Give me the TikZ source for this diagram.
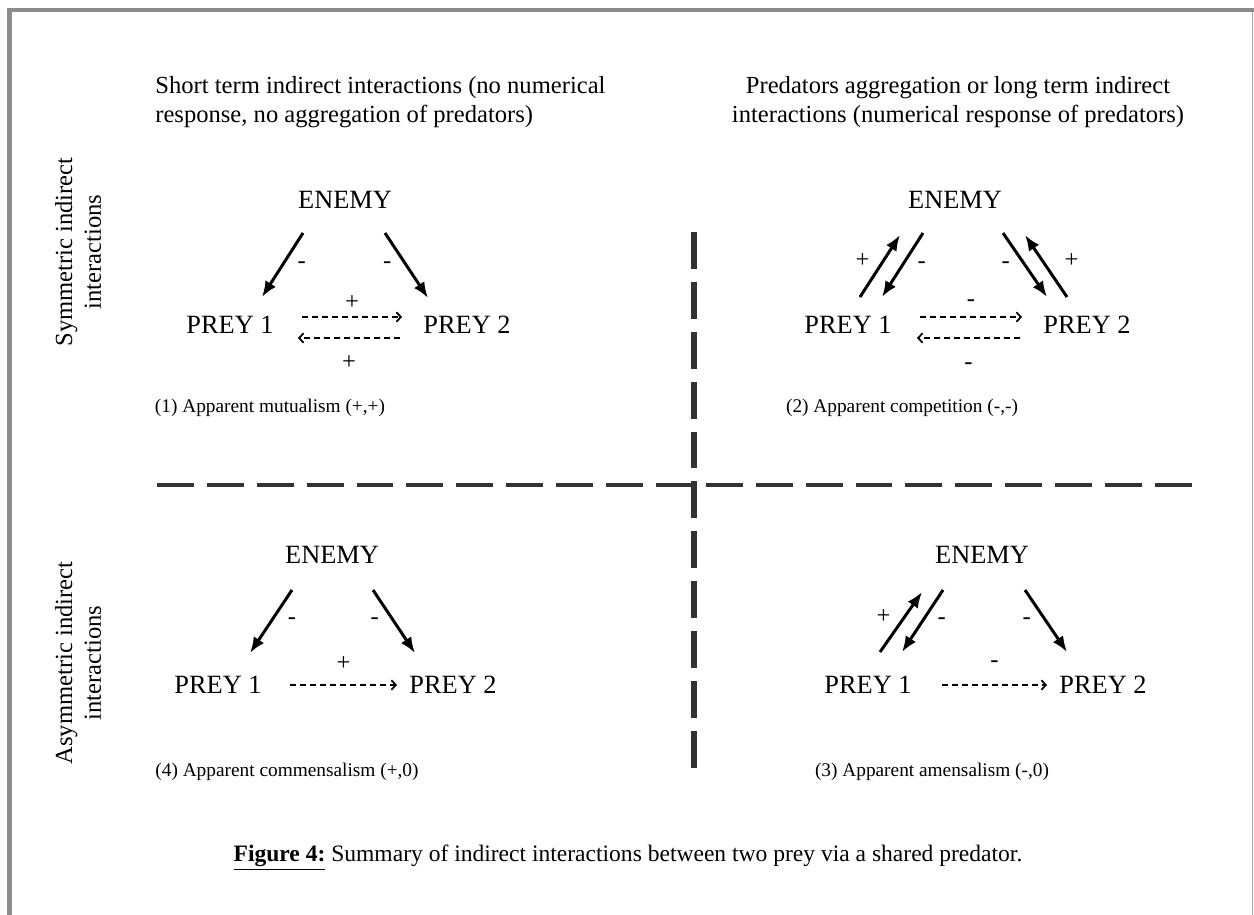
\documentclass[tikz,border=0pt]{standalone}
\usepackage{fontspec}
\setmainfont{Liberation Serif}
\usetikzlibrary{arrows.meta,calc}

\begin{document}
\begin{tikzpicture}[x=0.02cm,y=-0.02cm,
        main/.style = {font=\fontsize{15}{17}\selectfont, inner sep=1pt},
        txt/.style = {font=\fontsize{14}{16.4}\selectfont, inner sep=0pt},
        case/.style = {font=\fontsize{11}{13}\selectfont, inner sep=0pt},
        sgn/.style = {font=\fontsize{14}{16}\selectfont, inner sep=0pt},
        hit/.style = {line width=1.7pt, -{Latex[length=9pt,width=7pt]}},
        weak/.style = {line width=0.7pt, dash pattern=on 3.4pt off 2.3pt, -{Straight Barb[length=2.5pt,width=5.5pt,line width=1pt]}},
        sep/.style = {line width=2.8pt, black!80, dash pattern=on 21pt off 7.4pt}]
        \useasboundingbox (0,0) rectangle (1254,915);
        % frame
        \draw[black!45, line width=2.8pt] (9.5,915) -- (9.5,10) -- (1254,10);
        \draw[black!35, line width=0.6pt] (1252.5,12) -- (1252.5,915);
        % headings
        \node[txt, anchor=west, align=left] (h1) at (155,102) {Short term indirect interactions (no numerical\\response, no aggregation of predators)};
        \node[txt, align=center] (h2) at (958,102) {Predators aggregation or long term indirect\\interactions (numerical response of predators)};
        \node[txt, align=center, rotate=90] (v1) at (78,252) {Symmetric indirect\\interactions};
        \node[txt, align=center, rotate=90] (v2) at (78,663) {Asymmetric indirect\\interactions};
        % separators
        \draw[sep] (157,485) -- (1192,485);
        \draw[sep, line width=3.4pt] (694,232) -- (694,770);
        % (1) mutualism
        \node[main] (e1) at (345,200) {ENEMY};
        \node[main] (p1) at (230,325) {PREY 1};
        \node[main] (p2) at (467,325) {PREY 2};
        \draw[hit] ($(e1)+(-42,33)$) -- node[sgn, xshift=11pt] {-} ($(p1)+(32,-28)$);
        \draw[hit] ($(e1)+(40,33)$) -- node[sgn, xshift=-11pt] {-} ($(p2)+(-39,-27)$);
        \draw[weak] ($(p1)+(72,-8)$) -- node[sgn, yshift=8.5pt] {+} ($(p2)+(-65,-8)$);
        \draw[weak] ($(p2)+(-67,13)$) -- node[sgn, yshift=-14pt] {+} ($(p1)+(68,13)$);
        \node[case] (c1) at (270,408) {(1) Apparent mutualism (+,+)};
        % (2) competition
        \node[main] (e2) at (955,200) {ENEMY};
        \node[main] (p3) at (848,325) {PREY 1};
        \node[main] (p4) at (1087,325) {PREY 2};
        \draw[hit] ($(p3)+(12,-28)$) -- node[sgn, xshift=-10pt, yshift=3pt] {+} ($(e2)+(-55,35)$);
        \draw[hit] ($(e2)+(-32,33)$) -- node[sgn, xshift=11pt] {-} ($(p3)+(34,-28)$);
        \draw[hit] ($(e2)+(48,33)$) -- node[sgn, xshift=-11pt] {-} ($(p4)+(-40,-28)$);
        \draw[hit] ($(p4)+(-20,-28)$) -- node[sgn, xshift=14.5pt, yshift=3pt] {+} ($(e2)+(70,35)$);
        \draw[weak] ($(p3)+(72,-8)$) -- node[sgn, yshift=8pt] {-} ($(p4)+(-65,-8)$);
        \draw[weak] ($(p4)+(-67,13)$) -- node[sgn, yshift=-16pt] {-} ($(p3)+(69,13)$);
        \node[case] (c2) at (902,408) {(2) Apparent competition (-,-)};
        % (4) commensalism
        \node[main] (e3) at (332,555) {ENEMY};
        \node[main] (p5) at (218,685) {PREY 1};
        \node[main] (p6) at (453,685) {PREY 2};
        \draw[hit] ($(e3)+(-40,35)$) -- node[sgn, xshift=12pt] {-} ($(p5)+(32,-32)$);
        \draw[hit] ($(e3)+(41,35)$) -- node[sgn, xshift=-11pt] {-} ($(p6)+(-38,-32)$);
        \draw[weak] ($(p5)+(72,0)$) -- node[sgn, yshift=12pt] {+} ($(p6)+(-56,0)$);
        \node[case] (c4) at (287,772) {(4) Apparent commensalism (+,0)};
        % (3) amensalism
        \node[main] (e4) at (982,555) {ENEMY};
        \node[main] (p7) at (868,685) {PREY 1};
        \node[main] (p8) at (1103,685) {PREY 2};
        \draw[hit] ($(p7)+(12,-33)$) -- node[sgn, xshift=-10pt, yshift=3pt] {+} ($(e4)+(-60,37)$);
        \draw[hit] ($(e4)+(-39,35)$) -- node[sgn, xshift=11pt] {-} ($(p7)+(34,-33)$);
        \draw[hit] ($(e4)+(43,35)$) -- node[sgn, xshift=-11pt] {-} ($(p8)+(-36,-33)$);
        \draw[weak] ($(p7)+(74,0)$) -- node[sgn, yshift=12pt] {-} ($(p8)+(-56,0)$);
        \node[case] (c3) at (932,772) {(3) Apparent amensalism (-,0)};
        % caption
        \node[txt, font=\fontsize{13.4}{16}\selectfont] (cap) at (628,858) {\underline{\textbf{Figure 4:}} Summary of indirect interactions between two prey via a shared predator.};
\end{tikzpicture}
\end{document}
